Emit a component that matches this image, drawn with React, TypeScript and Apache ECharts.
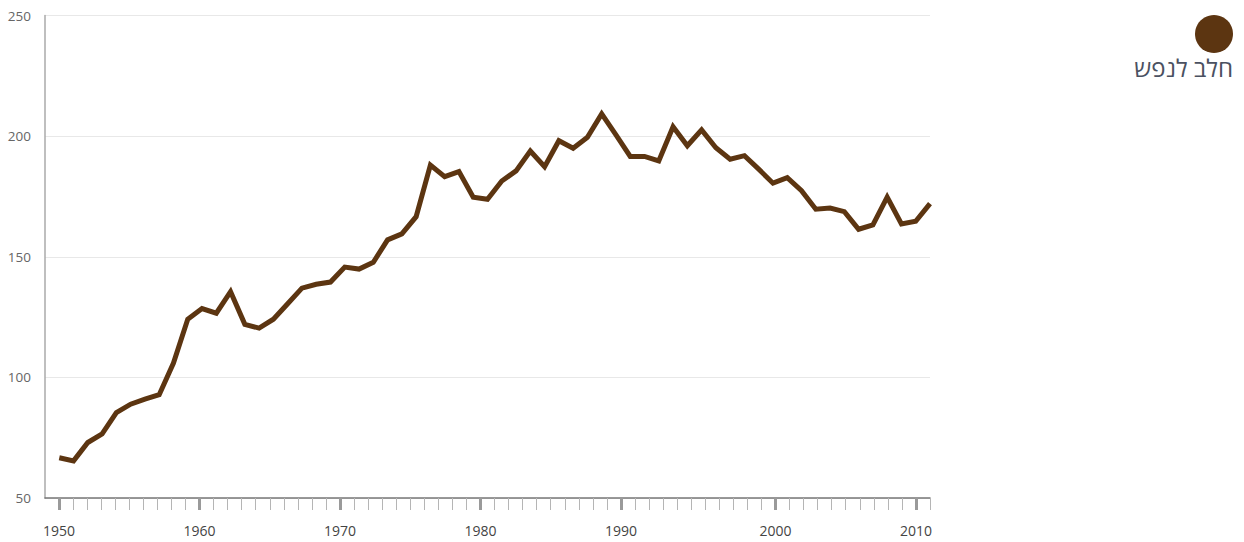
import React, { useEffect, useRef } from "react";
import * as echarts from "echarts";

// Years of the data points (1950–2011)
const years: number[] = [];
for (let y = 1950; y <= 2011; y++) years.push(y);

// Milk per capita
const milkPerCapita = [
  66.7, 65.4, 73.0, 76.6, 85.4, 88.9, 91.0, 92.8, 105.9, 124.1,
  128.5, 126.6, 135.5, 122.0, 120.4, 124.1, 130.5, 137.0, 138.6, 139.5,
  145.7, 144.9, 147.7, 157.0, 159.5, 166.6, 188.0, 183.2, 185.3, 174.7,
  173.8, 181.4, 185.6, 193.8, 187.3, 198.1, 195.0, 199.5, 209.2, 200.5,
  191.6, 191.6, 189.7, 203.9, 196.0, 202.6, 195.2, 190.4, 191.9, 186.3,
  180.5, 182.8, 177.4, 169.7, 170.2, 168.7, 161.4, 163.2, 174.7, 163.6,
  164.7, 172.0,
];

// Tick axis as drawn in the reference: 63 tick slots, labelled majors
const tickSlotCount = 63;
const majorTickSlots = [0, 10, 20, 30, 40, 51, 61];
const majorTickLabels = ["1950", "1960", "1970", "1980", "1990", "2000", "2010"];

const seriesName = "חלב לנפש";

const LINE_COLOR = "#5c3511";
const FONT = "'Open Sans', 'DejaVu Sans', sans-serif";

export default function App() {
  const ref = useRef<HTMLDivElement>(null);

  useEffect(() => {
    if (!ref.current) return;
    const chart = echarts.init(ref.current, undefined, { renderer: "svg" });
    // one leading padding slot so the first tick sits one step right of the y axis
    const slots = Array.from({ length: tickSlotCount + 1 }, (_, i) => String(i - 1));
    const isMajor = (i: number) => majorTickSlots.indexOf(i - 1) >= 0;
    const firstYear = years[0];

    chart.setOption({
      animation: false,
      textStyle: { fontFamily: FONT },
      grid: { left: 45, top: 15.5, width: 885, height: 482.5, containLabel: false },
      xAxis: [
        {
          type: "value",
          min: firstYear - 1,
          max: years[years.length - 1],
          position: "bottom",
          show: false,
        },
        {
          type: "category",
          data: slots,
          boundaryGap: false,
          position: "bottom",
          axisLine: { show: true, lineStyle: { color: "#777", width: 1.5 } },
          axisTick: {
            show: true,
            interval: (i: number) => i >= 1,
            length: 12,
            lineStyle: { color: "#b5b5b5", width: 1 },
          },
          axisLabel: {
            show: true,
            interval: (i: number) => isMajor(i),
            formatter: (_v: string, i: number) => {
              const k = majorTickSlots.indexOf(i - 1);
              return k >= 0 ? majorTickLabels[k] : "";
            },
            margin: 25,
            color: "#444",
            fontSize: 14,
            fontFamily: FONT,
          },
          splitLine: { show: false },
        },
        {
          type: "category",
          data: slots,
          boundaryGap: false,
          position: "bottom",
          axisLine: { show: false },
          axisTick: {
            show: true,
            interval: (i: number) => isMajor(i),
            length: 12,
            lineStyle: { color: "#9a9a9a", width: 3 },
          },
          axisLabel: { show: false },
          splitLine: { show: false },
        },
      ],
      yAxis: {
        type: "value",
        min: 50,
        max: 250,
        interval: 50,
        axisLine: { show: true, lineStyle: { color: "#aaa", width: 1.5 } },
        axisTick: { show: false },
        axisLabel: { color: "#666", fontSize: 13.5, margin: 14, fontFamily: FONT },
        splitLine: { show: true, lineStyle: { color: "#e8e8e8", width: 1 } },
      },
      series: [
        {
          name: seriesName,
          type: "line",
          xAxisIndex: 0,
          data: milkPerCapita.map((v, i) => [years[i], v]),
          symbol: "none",
          lineStyle: { color: LINE_COLOR, width: 5, join: "miter" },
          itemStyle: { color: LINE_COLOR },
        },
      ],
      graphic: [
        {
          type: "circle",
          shape: { cx: 1214, cy: 34, r: 19 },
          style: { fill: LINE_COLOR },
        },
        {
          type: "text",
          x: 1233,
          y: 67,
          style: {
            text: seriesName,
            align: "right",
            verticalAlign: "middle",
            fontSize: 24,
            fontFamily: FONT,
            fill: "#4b5161",
          },
        },
      ],
    });
    return () => chart.dispose();
  }, []);

  return (
    <div
      ref={ref}
      style={{ position: "absolute", left: 0, top: 0, width: 1244, height: 542 }}
    />
  );
}
